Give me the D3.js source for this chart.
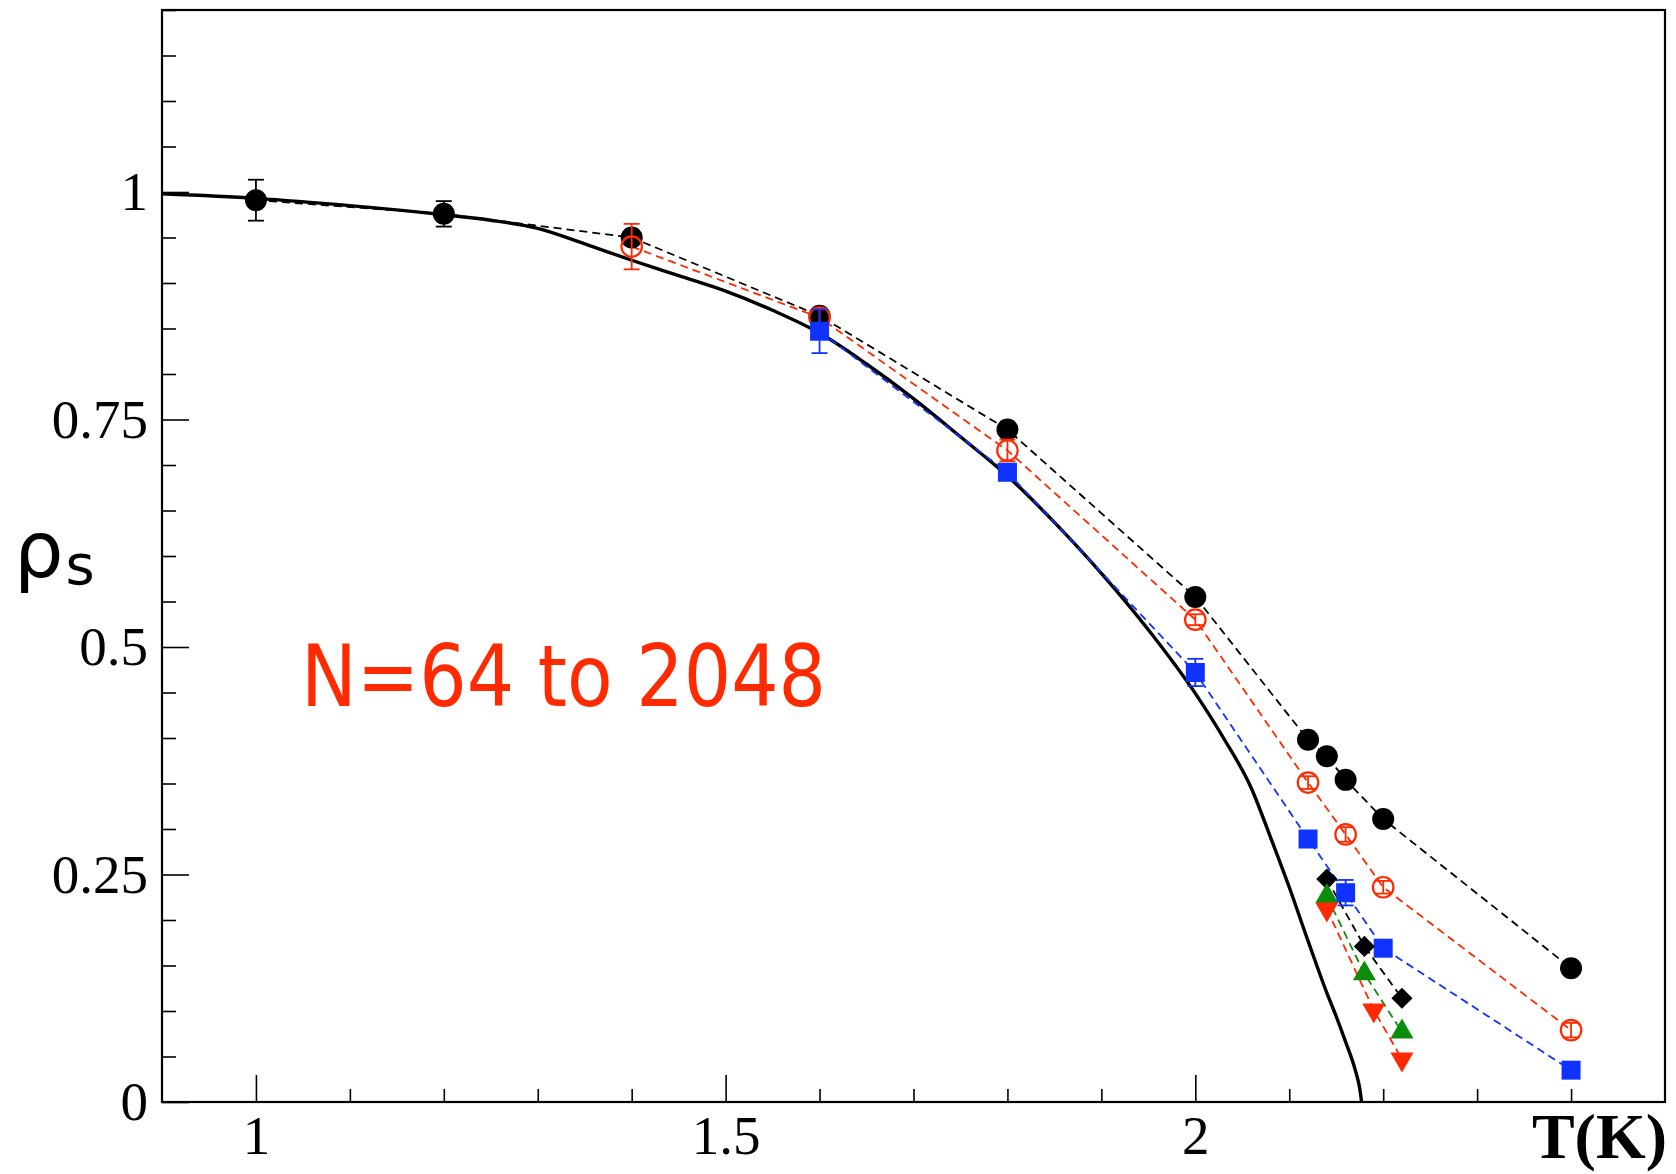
<!DOCTYPE html>
<html>
<head>
<meta charset="utf-8">
<script src="https://cdn.jsdelivr.net/npm/d3@7"></script>
<style>
  body { margin: 0; background: #fff; }
</style>
</head>
<body>
<svg id="chart" width="1676" height="1174"></svg>
<script>
// axes
const xDomain = [0.9, 2.5];
const yDomain = [0, 1.2];
const xMajor = [1, 1.5, 2];
const yMajor = [0, 0.25, 0.5, 0.75, 1];
const xLabels = ['1', '1.5', '2'];
const yLabels = ['0', '0.25', '0.5', '0.75', '1'];

// solid line: experimental rho_s(T)
const curveT   = [0.9, 1.0, 1.1, 1.2, 1.25, 1.3, 1.35, 1.4, 1.45, 1.5, 1.55, 1.6, 1.65, 1.7, 1.75, 1.8, 1.85, 1.9, 1.95, 2.0, 2.03, 2.06, 2.08, 2.1, 2.12, 2.14, 2.15, 2.16, 2.17, 2.175, 2.177];
const curveRho = [0.998, 0.993, 0.985, 0.975, 0.969, 0.960, 0.943, 0.925, 0.908, 0.891, 0.870, 0.845, 0.811, 0.773, 0.731, 0.688, 0.637, 0.581, 0.519, 0.449, 0.400, 0.344, 0.291, 0.236, 0.177, 0.120, 0.094, 0.066, 0.036, 0.015, 0];

// black filled circles
const blackT   = [1.0, 1.2, 1.4, 1.6, 1.8, 2.0, 2.12, 2.14, 2.16, 2.2, 2.4];
const blackRho = [0.991, 0.976, 0.950, 0.864, 0.739, 0.555, 0.398, 0.380, 0.354, 0.311, 0.147];
const blackErr = [0.0225, 0.014, 0, 0, 0, 0, 0, 0, 0, 0, 0];

// red open circles
const redT   = [1.4, 1.6, 1.8, 2.0, 2.12, 2.16, 2.2, 2.4];
const redRho = [0.940, 0.862, 0.716, 0.530, 0.351, 0.294, 0.236, 0.079];
const redErr = [0.025, 0.010, 0.012, 0.006, 0.007, 0.008, 0.007, 0.008];

// blue squares
const blueT   = [1.6, 1.8, 2.0, 2.12, 2.16, 2.2, 2.4];
const blueRho = [0.847, 0.692, 0.472, 0.289, 0.230, 0.169, 0.035];
const blueErr = [0.024, 0.005, 0.015, 0.004, 0.014, 0.004, 0.003];

// black diamonds, green up triangles, red down triangles
const diamondT   = [2.14, 2.18, 2.22];
const diamondRho = [0.245, 0.171, 0.114];
const greenT     = [2.14, 2.18, 2.22];
const greenRho   = [0.226, 0.141, 0.077];
const downT      = [2.14, 2.19, 2.22];
const downRho    = [0.212, 0.101, 0.047];

const RED = '#ff2a00', BLUE = '#0f32ff', GREEN = '#0b8c0b';

const svg = d3.select('#chart');
const margin = {left: 162, top: 10, right: 11, bottom: 72};
const width = +svg.attr('width'), height = +svg.attr('height');

const x = d3.scaleLinear().domain(xDomain).range([margin.left, width - margin.right]);
const y = d3.scaleLinear().domain(yDomain).range([height - margin.bottom, margin.top]);

const zip = (ts, rs, es) => ts.map((t, i) => ({t, r: rs[i], e: es ? es[i] : 0}));

// ticks
const xMinor = d3.range(10, 25).map(d => d / 10).filter(d => !xMajor.includes(d));
const yMinor = d3.range(0, 25).map(d => d / 20).filter(d => !yMajor.includes(d));

const gx = svg.append('g').attr('transform', `translate(0,${y.range()[0]})`);
gx.call(d3.axisBottom(x).tickValues(xMinor).tickSize(-13).tickFormat(''));
gx.append('g').call(d3.axisBottom(x).tickValues(xMajor).tickSize(-27).tickPadding(13)
  .tickFormat((d, i) => xLabels[i]));

const gy = svg.append('g').attr('transform', `translate(${x.range()[0]},0)`);
gy.call(d3.axisLeft(y).tickValues(yMinor).tickSize(-14).tickFormat(''));
gy.append('g').call(d3.axisLeft(y).tickValues(yMajor).tickSize(-27).tickPadding(14)
  .tickFormat((d, i) => yLabels[i]));

svg.selectAll('.domain').remove();
svg.selectAll('.tick line').attr('stroke', '#000').attr('stroke-width', 1.6);
svg.selectAll('.tick text')
  .attr('fill', '#000')
  .style('font-family', '"Liberation Serif", "DejaVu Serif", serif')
  .style('font-size', '55px');

// frame
svg.append('rect')
  .attr('x', x.range()[0]).attr('y', y.range()[1])
  .attr('width', x.range()[1] - x.range()[0])
  .attr('height', y.range()[0] - y.range()[1])
  .attr('fill', 'none').attr('stroke', '#000').attr('stroke-width', 2.2);

// experimental curve
svg.append('path')
  .datum(zip(curveT, curveRho))
  .attr('fill', 'none').attr('stroke', '#000').attr('stroke-width', 3.4)
  .attr('d', d3.line().x(d => x(d.t)).y(d => y(d.r)).curve(d3.curveMonotoneX));

const dashed = (data, color) => {
  svg.append('path')
    .datum(data)
    .attr('fill', 'none').attr('stroke', color).attr('stroke-width', 1.8)
    .attr('stroke-dasharray', '8,5')
    .attr('d', d3.line().x(d => x(d.t)).y(d => y(d.r)));
};

const errorBars = (data, color) => {
  const g = svg.append('g').attr('stroke', color).attr('stroke-width', 1.8);
  data.filter(d => d.e > 0).forEach(d => {
    const cx = x(d.t), y0 = y(d.r - d.e), y1 = y(d.r + d.e);
    g.append('line').attr('x1', cx).attr('x2', cx).attr('y1', y0).attr('y2', y1);
    g.append('line').attr('x1', cx - 8).attr('x2', cx + 8).attr('y1', y0).attr('y2', y0);
    g.append('line').attr('x1', cx - 8).attr('x2', cx + 8).attr('y1', y1).attr('y2', y1);
  });
};

const markers = (data, type, size, rotate, fill, stroke) => {
  svg.append('g').selectAll('path')
    .data(data)
    .enter()
    .append('path')
    .attr('transform', d => `translate(${x(d.t)},${y(d.r)}) rotate(${rotate})`)
    .attr('d', d3.symbol().type(type).size(size))
    .attr('fill', fill)
    .attr('stroke', stroke)
    .attr('stroke-width', stroke === 'none' ? 0 : 2.2);
};

const black = zip(blackT, blackRho, blackErr);
const red = zip(redT, redRho, redErr);
const blue = zip(blueT, blueRho, blueErr);
const diamonds = zip(diamondT, diamondRho);
const green = zip(greenT, greenRho);
const down = zip(downT, downRho);

dashed(black, '#000');
dashed(red, RED);
dashed(blue, BLUE);
dashed(diamonds, '#000');
dashed(green, GREEN);
dashed(down, RED);

errorBars(black, '#000');
markers(black, d3.symbolCircle, 380, 0, '#000', 'none');
markers(red, d3.symbolCircle, 330, 0, 'none', RED);
errorBars(red, RED);
errorBars(blue, BLUE);
markers(blue, d3.symbolSquare, 361, 0, BLUE, 'none');
markers(diamonds, d3.symbolSquare, 225, 45, '#000', 'none');
markers(green, d3.symbolTriangle, 230, 0, GREEN, 'none');
markers(down, d3.symbolTriangle, 230, 180, RED, 'none');

// labels
svg.append('text')
  .attr('x', 1667).attr('y', 1158)
  .attr('text-anchor', 'end')
  .style('font-family', '"Liberation Serif", "DejaVu Serif", serif')
  .style('font-weight', 'bold')
  .style('font-size', '64px')
  .text('T(K)');

const ylab = svg.append('text')
  .attr('x', 14).attr('y', 577)
  .style('font-family', '"DejaVu Sans", sans-serif');
ylab.append('tspan').style('font-size', '78px').text('ρ');
ylab.append('tspan').attr('dy', 7).attr('dx', 2).style('font-size', '56px').text('s');

svg.append('text')
  .attr('x', 301).attr('y', 706)
  .attr('textLength', 525).attr('lengthAdjust', 'spacingAndGlyphs')
  .attr('fill', RED)
  .style('font-family', '"DejaVu Sans", sans-serif')
  .style('font-size', '86px')
  .text('N=64 to 2048');
</script>
</body>
</html>
